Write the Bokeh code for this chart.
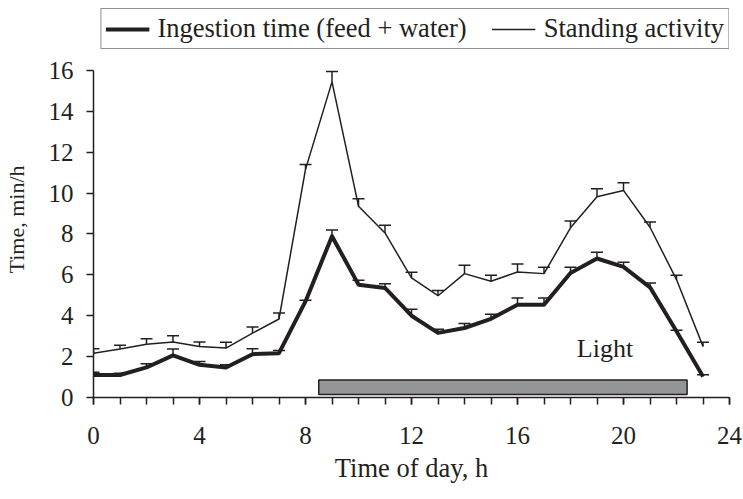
from bokeh.plotting import figure
from bokeh.models import (ColumnDataSource, FixedTicker, Whisker, TeeHead, Legend,
                          LegendItem, Label)
from bokeh.embed import file_html
from bokeh.resources import INLINE

# ---- data ----
hours = list(range(24))
ingestion = [1.10, 1.10, 1.47, 2.06, 1.60, 1.47, 2.12, 2.17, 4.70, 7.89, 5.52, 5.36,
             4.00, 3.16, 3.40, 3.85, 4.54, 4.54, 6.09, 6.80, 6.39, 5.39, 3.24, 1.03]
ingestion_se = [0.14, 0.09, 0.18, 0.31, 0.16, 0.13, 0.27, 0.13, 0.06, 0.31, 0.21, 0.21,
                0.32, 0.18, 0.22, 0.22, 0.33, 0.33, 0.28, 0.31, 0.23, 0.21, 0.05, 0.08]
standing = [2.17, 2.37, 2.61, 2.71, 2.50, 2.42, 3.15, 3.84, 11.16, 15.44, 9.36, 8.05,
            5.85, 4.98, 6.06, 5.69, 6.14, 6.06, 8.30, 9.82, 10.13, 8.33, 5.77, 2.50]
standing_se = [0.22, 0.18, 0.27, 0.31, 0.21, 0.28, 0.30, 0.29, 0.24, 0.51, 0.36, 0.38,
               0.28, 0.26, 0.41, 0.29, 0.39, 0.31, 0.33, 0.39, 0.38, 0.26, 0.21, 0.20]
light_start, light_end = 8.5, 22.4
x_tick_labels = [0, 4, 8, 12, 16, 20, 24]
y_tick_labels = [0, 2, 4, 6, 8, 10, 12, 14, 16]

INK = "#231f20"
FONT = "Liberation Serif"

src_i = ColumnDataSource(dict(h=hours, v=ingestion,
                              up=[a + b for a, b in zip(ingestion, ingestion_se)]))
src_s = ColumnDataSource(dict(h=hours, v=standing,
                              up=[a + b for a, b in zip(standing, standing_se)]))

p = figure(width=743, height=499, output_backend="svg", toolbar_location=None,
           x_range=(0, 24), y_range=(0, 19.03),
           min_border_left=93, min_border_right=14, min_border_top=8, min_border_bottom=102)
p.outline_line_color = None
p.xgrid.visible = False
p.ygrid.visible = False
p.background_fill_color = "white"
p.border_fill_color = "white"

# light period bar
p.quad(left=[light_start], right=[light_end], bottom=[0.15], top=[0.86],
       fill_color="#939598", line_color=INK, line_width=1.5)

r_i = p.line("h", "v", source=src_i, line_color=INK, line_width=4, line_join="round")
r_s = p.line("h", "v", source=src_s, line_color=INK, line_width=1.5)

for src in (src_i, src_s):
    w = Whisker(source=src, base="h", lower="v", upper="up", dimension="height",
                line_color=INK, line_width=1.5,
                upper_head=TeeHead(size=12, line_color=INK, line_width=1.5),
                lower_head=None)
    p.add_layout(w)

p.add_layout(Label(x=19.3, y=2.4, text="Light", text_font=FONT, text_font_size="26px",
                   text_color=INK, text_align="center", text_baseline="alphabetic"))

# axes
for ax in (p.xaxis[0], p.yaxis[0]):
    ax.axis_line_color = INK
    ax.axis_line_width = 1.5
    ax.major_tick_line_color = INK
    ax.major_tick_line_width = 1.5
    ax.minor_tick_line_color = INK
    ax.minor_tick_line_width = 1.5
    ax.major_tick_in = 0
    ax.major_tick_out = 7
    ax.minor_tick_in = 0
    ax.major_label_text_font = FONT
    ax.major_label_text_font_size = "25px"
    ax.major_label_text_color = INK
    ax.axis_label_text_font = FONT
    ax.axis_label_text_font_style = "normal"
    ax.axis_label_text_color = INK

p.xaxis.ticker = FixedTicker(ticks=x_tick_labels, minor_ticks=hours + [24])
p.xaxis.minor_tick_out = 7
p.xaxis.major_label_standoff = 22
p.xaxis.axis_label = "Time of day, h"
p.xaxis.axis_label_text_font_size = "26.5px"
p.xaxis.axis_label_standoff = 6

p.yaxis.ticker = FixedTicker(ticks=y_tick_labels, minor_ticks=[])
p.yaxis.bounds = (0, 16)
p.yaxis.minor_tick_out = 0
p.yaxis.major_label_standoff = 13
# trailing no-break spaces nudge the rotated title toward the lower, data part of the axis
p.yaxis.axis_label = "Time, min/h" + "\u00a0" * 6
p.yaxis.axis_label_text_font_size = "22px"
p.yaxis.axis_label_standoff = 17

legend = Legend(items=[LegendItem(label="Ingestion time (feed + water)", renderers=[r_i]),
                       LegendItem(label="Standing activity", renderers=[r_s])],
                orientation="horizontal", location="top_right",
                label_text_font=FONT, label_text_font_size="26.5px", label_text_color=INK,
                glyph_width=44, glyph_height=20, label_standoff=8, spacing=25,
                padding=4, margin=0, border_line_color=INK, border_line_width=1.5,
                background_fill_alpha=1.0)
p.add_layout(legend, "center")

open("out.html", "w").write(file_html(p, INLINE))
